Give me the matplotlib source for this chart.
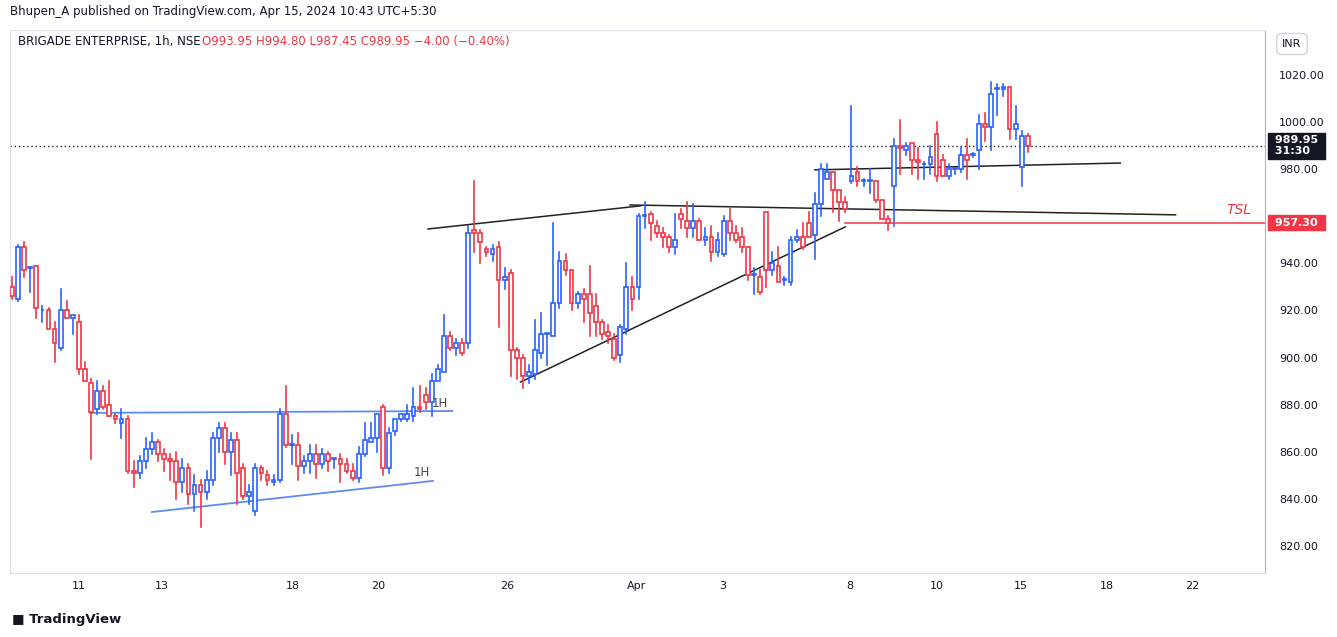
import matplotlib
matplotlib.use("Agg")
import matplotlib.pyplot as plt
from matplotlib.patches import Rectangle

opens = [930,925,947,938,939,920,920,912,904,920,917,915,895,889,878,886,880,875,872,874,
 852,851,856,861,864,859,857,856,847,853,842,846,843,848,866,870,860,
 865,853,841,835,853,850,847,848,876,863,863,854,856,859,855,859,857,857,855,852,849,859,864,866,879,853,869,874,874,875,879,884,881,890,894,909,904,906,906,954,953,946,944,
 947,933,936,903,900,892,893,902,910,909,923,941,937,923,927,927,922,915,911,908,901,912,930,930,960,961,956,953,951,947,961,958,955,958,950,951,945,944,958,953,951,947,935,934,962,937,939,933,932,950,951,957,952,965,
 976,979,971,966,975,979,975,975,975,967,959,973,990,988,991,984,982,982,995,984,977,980,980,986,986,988,999,998,1014,1014,1015,997,981,993.95]
highs = [934,948,949,938,939,922,921,915,929,924,918,918,898,891,890,888,890,876,878,875,
 856,858,866,868,865,861,859,860,857,855,850,848,852,868,872,872,868,
 868,855,846,855,854,852,850,878,888,867,868,858,863,863,861,860,857,859,857,855,862,872,872,876,880,870,874,876,880,887,888,887,893,897,918,911,908,908,956,975,954,947,948,
 949,938,937,904,901,897,916,919,910,957,945,944,937,928,929,939,927,916,914,910,914,940,934,961,966,962,958,955,952,961,963,966,965,959,955,956,953,960,963,956,955,947,938,937,962,945,947,934,951,954,957,962,970,982,
 982,979,971,968,1007,981,976,980,975,967,960,993,1001,991,991,989,983,990,1000,986,982,980,989,993,987,1003,1004,1017,1016,1016,1015,1007,996,994.8]
lows = [925,924,934,928,917,915,912,898,903,917,910,893,890,857,876,878,876,872,866,851,
 845,849,853,859,856,852,848,840,843,838,835,828,840,846,860,855,850,
 838,840,838,833,848,846,846,847,862,855,848,851,851,849,853,852,853,847,851,848,847,858,864,860,850,851,867,873,873,873,877,878,875,890,894,903,901,901,904,945,940,943,941,
 913,929,892,891,887,889,891,900,897,909,921,935,920,921,915,909,909,908,906,899,898,910,920,925,955,950,951,947,945,944,955,951,951,950,948,941,943,943,950,949,945,933,927,927,930,935,932,931,931,949,946,951,942,960,
 976,962,958,962,974,973,973,970,966,959,954,956,978,986,978,976,976,978,975,977,976,978,979,976,985,980,992,988,1003,1011,993,993,973,987.45]
closes = [926,947,937,938,921,920,912,906,920,917,918,895,890,877,886,879,875,874,874,852,
 851,856,861,864,859,857,856,847,853,842,846,843,848,866,870,860,865,
 851,841,843,853,851,848,848,876,863,863,854,856,859,855,859,856,857,855,852,849,859,865,866,876,853,868,874,876,876,879,878,881,890,895,909,904,906,902,953,953,949,945,946,
 933,934,903,900,892,894,903,910,910,923,941,937,923,927,925,919,915,910,909,900,913,930,925,960,960,957,953,951,947,950,959,955,958,950,951,945,950,958,953,950,947,935,935,928,937,940,932,933,950,951,947,951,965,980,
 979,971,966,963,977,975,975,975,967,959,957,990,989,990,984,983,982,985,977,977,980,980,986,984,986,999,998,1012,1014,1015,997,999,994,989.95]

tick_pos = [11.0, 24.7, 46.1, 60.2, 81.4, 102.6, 116.8, 137.8, 152.0, 165.8, 180.0, 194.0]
tick_labels = ["11", "13", "18", "20", "26", "Apr", "3", "8", "10", "15", "18", "22"]
price_ticks = [820, 840, 860, 880, 900, 920, 940, 960, 980, 1000, 1020]

blue_lines = [((12.8, 876.5), (72.4, 877.3)), ((23.0, 834.4), (69.2, 847.6))]
black_lines = [((68.4, 954.6), (103.3, 964.4)), ((101.6, 964.8), (191.3, 960.6)),
               ((83.6, 889.6), (137.0, 955.5)), ((132.0, 979.7), (182.2, 982.6))]
tsl_price = 957.30
last_price = 989.95

UP = "#2962ff"; DN = "#f23645"
W, H = 1337, 637
fig = plt.figure(figsize=(W/100, H/100), dpi=100)
fig.patch.set_facecolor("white")
ax = fig.add_axes([10/W, 1-573/H, 1255/W, 543/H])
ax.set_xlim(-0.33, 206)
ax.set_ylim(808.5, 1039.1)

bw = 0.62
for i, (o, h, l, c) in enumerate(zip(opens, highs, lows, closes)):
    col = UP if c >= o else DN
    top, bot = max(o, c), min(o, c)
    ax.plot([i, i], [top, h], color=col, lw=1.2, zorder=2)
    ax.plot([i, i], [l, bot], color=col, lw=1.2, zorder=2)
    ax.add_patch(Rectangle((i-bw/2, bot), bw, max(top-bot, 0.4), facecolor="white",
                           edgecolor=col, lw=1.2, zorder=3))

for (a, b) in blue_lines:
    ax.plot([a[0], b[0]], [a[1], b[1]], color="#5b8cf5", lw=1.3, zorder=1)
for (a, b) in black_lines:
    ax.plot([a[0], b[0]], [a[1], b[1]], color="#222222", lw=1.1, zorder=1)
ax.plot([137.0, 206], [tsl_price, tsl_price], color=DN, lw=1.1)
ax.axhline(last_price, color="#222222", lw=1, ls=(0, (1, 2)))
ax.text(70.4, 880.5, "1H", fontsize=8.5, color="#444444", ha="center", va="center")
ax.text(67.4, 851, "1H", fontsize=8.5, color="#444444", ha="center", va="center")
ax.text(203.8, 962.5, "TSL", fontsize=10, color=DN, style="italic", ha="right", va="center")

ax.set_xticks(tick_pos)
ax.set_xticklabels(tick_labels, fontsize=8, color="#131722")
ax.tick_params(axis="x", length=0, pad=6)
ax.yaxis.tick_right()
ax.set_yticks(price_ticks)
ax.set_yticklabels([f"{p:.2f}" if p != 960 else "" for p in price_ticks], fontsize=8, color="#131722")
ax.tick_params(axis="y", length=0, pad=10)
for s in ["top", "left", "bottom"]:
    ax.spines[s].set_color("#e0e3eb")
ax.spines["right"].set_color("#b2b5be")

ax.text(1.005, (tsl_price-808.5)/230.6, " 957.30 ", transform=ax.transAxes, fontsize=8,
        color="white", fontweight="bold", va="center", ha="left",
        bbox=dict(boxstyle="square,pad=0.25", fc=DN, ec=DN))
ax.text(1.005, (last_price-808.5)/230.6, " 989.95 \n 31:30", transform=ax.transAxes, fontsize=8,
        color="white", fontweight="bold", va="center", ha="left", linespacing=1.1,
        bbox=dict(boxstyle="square,pad=0.25", fc="#131722", ec="#131722"))

fig.text(10/W, 1-12/H, "Bhupen_A published on TradingView.com, Apr 15, 2024 10:43 UTC+5:30",
         fontsize=8.5, color="#131722", va="center")
fig.text(18/W, 1-42/H, "BRIGADE ENTERPRISE, 1h, NSE", fontsize=8.5, color="#131722", va="center")
fig.text(202/W, 1-42/H, "O993.95 H994.80 L987.45 C989.95 −4.00 (−0.40%)", fontsize=8.5,
         color=DN, va="center")
fig.text(1292/W, 1-44/H, "INR", fontsize=8, color="#131722", va="center", ha="center",
         bbox=dict(boxstyle="round,pad=0.5", fc="white", ec="#d1d4dc"))
fig.text(12/W, 1-619/H, "\u25A0 TradingView", fontsize=9.5, color="#131722", va="center",
         fontweight="bold")
fig.savefig("out.png", dpi=100)
